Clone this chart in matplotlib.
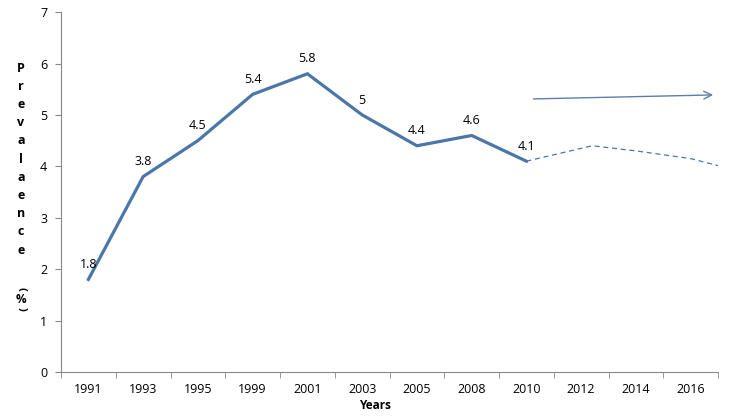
import numpy as np
import matplotlib.pyplot as plt

plt.rcParams['font.family'] = ['Open Sans', 'DejaVu Sans']

years = ['1991', '1993', '1995', '1999', '2001', '2003', '2005', '2008',
         '2010', '2012', '2014', '2016']
prevalence = [1.8, 3.8, 4.5, 5.4, 5.8, 5, 4.4, 4.6, 4.1]
labels = ['1.8', '3.8', '4.5', '5.4', '5.8', '5', '4.4', '4.6', '4.1']

# projected trend (dashed), positions in category units
proj_pos = [8, 9.2, 10, 11, 11.55]
proj_vals = [4.1, 4.4, 4.3, 4.15, 4.0]

# trend arrow
arrow_pos = [8.08, 11.46]
arrow_vals = [5.31, 5.39]

blue = '#4a76a8'
grey = '#888888'

fig = plt.figure(figsize=(7.29, 4.17), dpi=100)
ax = fig.add_axes([0.0837, 0.108, 0.9013, 0.863])

x = np.arange(len(prevalence))
ax.plot(x, prevalence, color=blue, lw=2.3, solid_joinstyle='miter')
ax.plot(proj_pos, proj_vals, color=blue, lw=0.9, ls=(0, (4, 3)))
for xi, v, t in zip(x, prevalence, labels):
    ax.annotate(t, (xi, v), xytext=(0, 6), textcoords='offset points',
                ha='center', va='bottom', fontsize=9)

ax.annotate('', xy=(arrow_pos[1], arrow_vals[1]), xytext=(arrow_pos[0], arrow_vals[0]),
            arrowprops=dict(arrowstyle='->', color='#5b7fa8', lw=1.0,
                            mutation_scale=14))

ax.set_xlim(-0.5, len(years) - 0.5)
ax.set_ylim(0, 7)
ax.set_yticks(range(8))
ax.set_xticks(range(len(years)))
ax.set_xticklabels(years, fontsize=9)
ax.set_xticks(np.arange(-0.5, len(years)), minor=True)
ax.tick_params(axis='x', which='major', length=0, pad=8)
ax.tick_params(axis='x', which='minor', length=4, color=grey, direction='out')
ax.tick_params(axis='y', length=4, color=grey, labelsize=9, pad=6)
for s in ['top', 'right']:
    ax.spines[s].set_visible(False)
for s in ['left', 'bottom']:
    ax.spines[s].set_color(grey)

fig.text(0.5145, 0.012, 'Years', ha='center', va='bottom', fontsize=8.5,
         fontweight='bold')

ylab = 'Prevalaence'
for i, ch in enumerate(ylab):
    fig.text(21 / 729, 1 - (68 + i * 18.2) / 417, ch, ha='center', va='center',
             fontsize=9, fontweight='bold')
fig.text(21 / 729, 1 - 289 / 417, '(', ha='center', va='center', fontsize=8,
         fontweight='bold', rotation=-90)
fig.text(21 / 729, 1 - 299.5 / 417, '%', ha='center', va='center', fontsize=8.5,
         fontweight='bold')
fig.text(21 / 729, 1 - 309 / 417, ')', ha='center', va='center', fontsize=8,
         fontweight='bold', rotation=-90)

fig.savefig('out.png', dpi=100)
